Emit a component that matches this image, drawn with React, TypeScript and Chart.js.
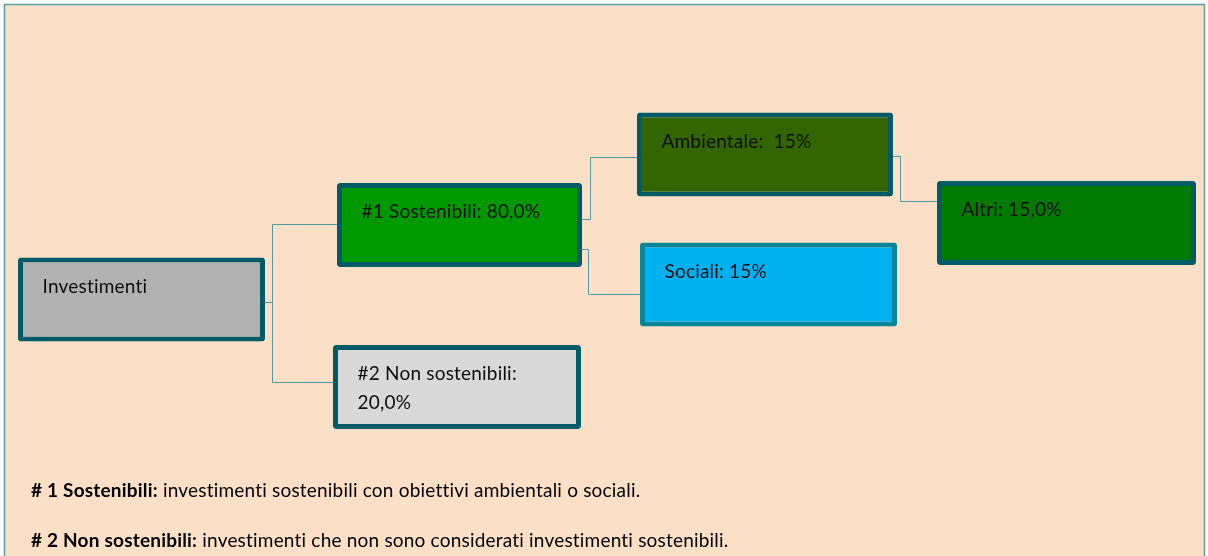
import { useEffect, useRef } from "react";
import { Chart, registerables } from "chart.js";

Chart.register(...registerables);

// ---- data ----
const nodeLabels: string[][] = [
  ["Investimenti"],
  ["#1 Sostenibili: 80,0%"],
  ["#2 Non sostenibili:", "20,0%"],
  ["Ambientale:  15%"],
  ["Sociali: 15%"],
  ["Altri: 15,0%"],
];
const nodeShares = [100, 80, 20, 15, 15, 15];
const nodeParents = [-1, 0, 0, 1, 1, 3];
const footnoteTitles = ["# 1 Sostenibili:", "# 2 Non sostenibili:"];
const footnoteTexts = [
  "investimenti sostenibili con obiettivi ambientali o sociali.",
  "investimenti che non sono considerati investimenti sostenibili.",
];

// ---- layout (in hidden-scale units) ----
const boxStart = [1.8, 33.7, 33.3, 63.7, 64.0, 93.7];
const boxEnd = [26.5, 58.2, 58.1, 89.3, 89.7, 119.6];
const boxMid = [29.95, 22.5, 38.7, 15.45, 28.45, 22.3];
const linkExit = [0, 30.2, 30.2, 21.9, 24.9, 15.6];
const linkElbow = [0, 27.2, 27.2, 59.0, 58.8, 90.0];
const linkEntry = [0, 22.4, 38.2, 15.7, 29.4, 20.1];
const footnoteX = 3.1;
const footnoteY = [49.7, 54.7];

// ---- styles ----
const fillColors = ["#B2B2B2", "#009900", "#D9D9D9", "#336600", "#00B0F0", "#007A00"];
const borderColors = ["#015A68", "#015A68", "#015A68", "#015A68", "#07869A", "#015A68"];
const PEACH = "#FCDFC7";
const FRAME = "#5EA3A9";
const LINK = "#4F9AA2";
const FONT = "Lato, 'Open Sans', sans-serif";

const treePlugin = {
  id: "tree",
  beforeDraw(chart: any) {
    const { ctx } = chart;
    const { x, y } = chart.scales;
    ctx.save();
    ctx.fillStyle = "#ffffff";
    ctx.fillRect(0, 0, chart.width, chart.height);
    const l = x.getPixelForValue(0.45);
    const r = x.getPixelForValue(120.45);
    const t = y.getPixelForValue(0.45);
    const b = y.getPixelForValue(60);
    ctx.fillStyle = PEACH;
    ctx.fillRect(l, t, r - l, b - t);
    ctx.strokeStyle = FRAME;
    ctx.lineWidth = 1.6;
    ctx.strokeRect(l, t, r - l, b - t);
    ctx.restore();
  },
  beforeDatasetsDraw(chart: any) {
    const { ctx } = chart;
    const { x, y } = chart.scales;
    const snap = (v: number) => Math.round(v) + 0.5;
    ctx.save();
    ctx.strokeStyle = LINK;
    ctx.lineWidth = 1;
    nodeParents.forEach((p, c) => {
      if (p < 0) return;
      const px = x.getPixelForValue(boxEnd[p]);
      const ey = snap(y.getPixelForValue(linkExit[c]));
      const ex = snap(x.getPixelForValue(linkElbow[c]));
      const cy = snap(y.getPixelForValue(linkEntry[c]));
      const cx = x.getPixelForValue(boxStart[c]);
      ctx.beginPath();
      ctx.moveTo(px, ey);
      ctx.lineTo(ex, ey);
      ctx.lineTo(ex, cy);
      ctx.lineTo(cx, cy);
      ctx.stroke();
    });
    ctx.restore();
  },
  afterDatasetsDraw(chart: any) {
    const { ctx } = chart;
    const { x, y } = chart.scales;
    const meta = chart.getDatasetMeta(0);
    ctx.save();
    ctx.fillStyle = "#0d0d0d";
    ctx.textBaseline = "alphabetic";
    ctx.textAlign = "left";
    (ctx as any).letterSpacing = "0.2px";
    ctx.font = `19px ${FONT}`;
    meta.data.forEach((el: any, i: number) => {
      const p = el.getProps(["x", "base", "y", "height"], true);
      const left = Math.min(p.x, p.base);
      const top = p.y - p.height / 2;
      nodeLabels[i].forEach((line, k) => {
        ctx.fillText(line, left + 24.5, top + 35 + k * 29);
      });
    });
    // footnotes
    footnoteTitles.forEach((title, i) => {
      const fx = x.getPixelForValue(footnoteX);
      const fy = y.getPixelForValue(footnoteY[i]);
      ctx.fillStyle = "#000000";
      ctx.font = `bold 19px ${FONT}`;
      ctx.fillText(title, fx, fy);
      const w = ctx.measureText(title).width;
      ctx.font = `19px ${FONT}`;
      ctx.fillText(" " + footnoteTexts[i], fx + w, fy);
    });
    ctx.restore();
  },
};

export default function App() {
  const ref = useRef<HTMLCanvasElement>(null);
  useEffect(() => {
    const chart = new Chart(ref.current!, {
      type: "bar",
      data: {
        labels: nodeLabels.map((l) => l.join(" ")),
        datasets: [
          {
            label: "Investimenti",
            data: nodeShares.map((_, i) => ({ x: [boxStart[i], boxEnd[i]], y: boxMid[i] })) as any,
            backgroundColor: fillColors,
            borderColor: borderColors,
            borderWidth: 5,
            borderRadius: 3,
            borderSkipped: false,
            inflateAmount: 0,
            barThickness: 84,
          } as any,
        ],
      },
      options: {
        indexAxis: "y",
        animation: false,
        responsive: false,
        devicePixelRatio: 1,
        events: [],
        layout: { padding: 0 },
        plugins: { legend: { display: false }, tooltip: { enabled: false } },
        scales: {
          x: { type: "linear", min: 0, max: 120.8, offset: false, display: false },
          y: { type: "linear", min: 0, max: 55.6, reverse: true, offset: false, display: false },
        },
      },
      plugins: [treePlugin],
    });
    return () => chart.destroy();
  }, []);
  return (
    <div style={{ position: "absolute", left: 0, top: 0, width: 1208, height: 556 }}>
      <canvas ref={ref} width={1208} height={556} style={{ display: "block" }} />
    </div>
  );
}
